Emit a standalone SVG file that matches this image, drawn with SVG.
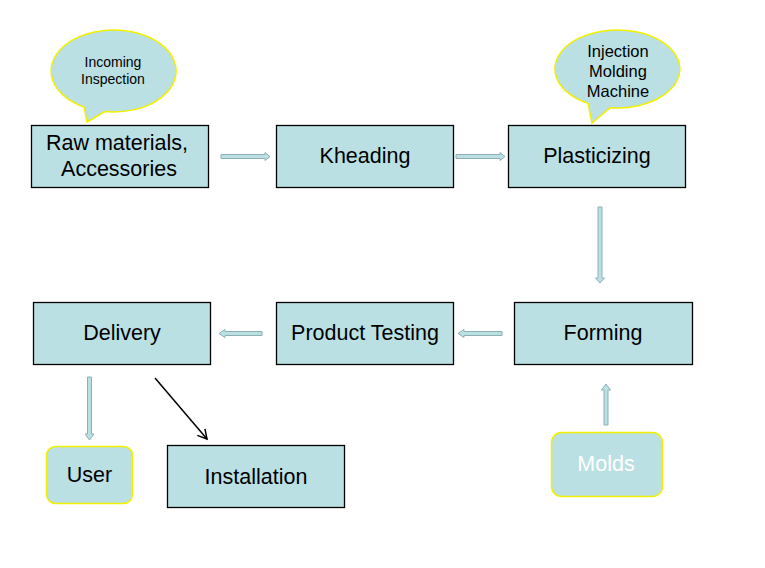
<svg xmlns="http://www.w3.org/2000/svg" width="765" height="568" viewBox="0 0 765 568">
<style>
.box{fill:#BAE0E3;stroke:#000;stroke-width:1.3}
.rbox{fill:#BAE0E3;stroke:#F2F000;stroke-width:1.5}
.call{fill:#BAE0E3;stroke:#F2F000;stroke-width:1.5}
.lbl{font-family:"Liberation Sans",Arial,sans-serif;font-size:21.5px;fill:#000;text-anchor:middle}
.sm{font-family:"Liberation Sans",Arial,sans-serif;font-size:14px;fill:#000;text-anchor:middle}
.md{font-family:"Liberation Sans",Arial,sans-serif;font-size:16.5px;fill:#000;text-anchor:middle}
.blk{fill:#BAE0E3;stroke:#8EB0B4;stroke-width:1}
</style>
<defs>
<marker id="ah" markerWidth="12" markerHeight="12" refX="10" refY="6" orient="auto" markerUnits="userSpaceOnUse">
<path d="M1,1 L10,6 L1,11" fill="none" stroke="#000" stroke-width="1.5"/>
</marker>
</defs>
<rect width="765" height="568" fill="#fff"/>

<g id="connectors">
<polygon class="blk" points="221,154.5 265,154.5 265,152.5 270,156.5 265,160.5 265,158.5 221,158.5"/>
<polygon class="blk" points="456,154.5 500,154.5 500,152.5 505,156.5 500,160.5 500,158.5 456,158.5"/>
<polygon class="blk" points="598,207 602,207 602,278 604.5,278 600,283 595.5,278 598,278"/>
<polygon class="blk" points="502,331.5 464,331.5 464,329.5 458,333.5 464,337.5 464,335.5 502,335.5"/>
<polygon class="blk" points="262,331.5 225,331.5 225,329.5 219,333.5 225,337.5 225,335.5 262,335.5"/>
<polygon class="blk" points="87.5,377 91.5,377 91.5,434 94,434 89.5,440 85,434 87.5,434"/>
<polygon class="blk" points="604,425 608,425 608,390 610.5,390 606,384 601.5,390 604,390"/>
<line x1="155" y1="378" x2="207" y2="439" stroke="#000" stroke-width="1.5" marker-end="url(#ah)"/>
</g>

<g id="incoming-inspection">
<path class="call" d="M 84,107.1 L 87,122 L 105,111.6 A 62.5 41 0 1 0 84,107.1 Z"/>
<text class="sm" x="113" y="67">Incoming</text>
<text class="sm" x="113" y="84">Inspection</text>
</g>

<g id="injection-molding-machine">
<path class="call" d="M 588,103.4 L 592,123 L 610,107.7 A 62.5 39 0 1 0 588,103.4 Z"/>
<text class="md" x="618" y="57">Injection</text>
<text class="md" x="618" y="77">Molding</text>
<text class="md" x="618" y="97">Machine</text>
</g>

<g id="raw-materials">
<rect class="box" x="31.5" y="125.5" width="177" height="62"/>
<text class="lbl" x="117" y="150">Raw materials,</text>
<text class="lbl" x="119" y="176">Accessories</text>
</g>

<g id="kheading">
<rect class="box" x="276.5" y="125.5" width="177" height="62"/>
<text class="lbl" x="365" y="163">Kheading</text>
</g>

<g id="plasticizing">
<rect class="box" x="508.5" y="125.5" width="177" height="62"/>
<text class="lbl" x="597" y="163">Plasticizing</text>
</g>

<g id="forming">
<rect class="box" x="514.5" y="302.5" width="178" height="62"/>
<text class="lbl" x="603" y="340">Forming</text>
</g>

<g id="product-testing">
<rect class="box" x="276.5" y="302.5" width="177" height="62"/>
<text class="lbl" x="365" y="340">Product Testing</text>
</g>

<g id="delivery">
<rect class="box" x="33.5" y="302.5" width="177" height="62"/>
<text class="lbl" x="122" y="340">Delivery</text>
</g>

<g id="user">
<rect class="rbox" x="46.5" y="446.5" width="86" height="57" rx="9"/>
<text class="lbl" x="89.5" y="482">User</text>
</g>

<g id="installation">
<rect class="box" x="167.5" y="445.5" width="177" height="62"/>
<text class="lbl" x="256" y="484">Installation</text>
</g>

<g id="molds">
<rect class="rbox" x="551.5" y="432.5" width="111" height="64" rx="10"/>
<text class="lbl" x="606" y="471" style="fill:#fff">Molds</text>
</g>
</svg>
